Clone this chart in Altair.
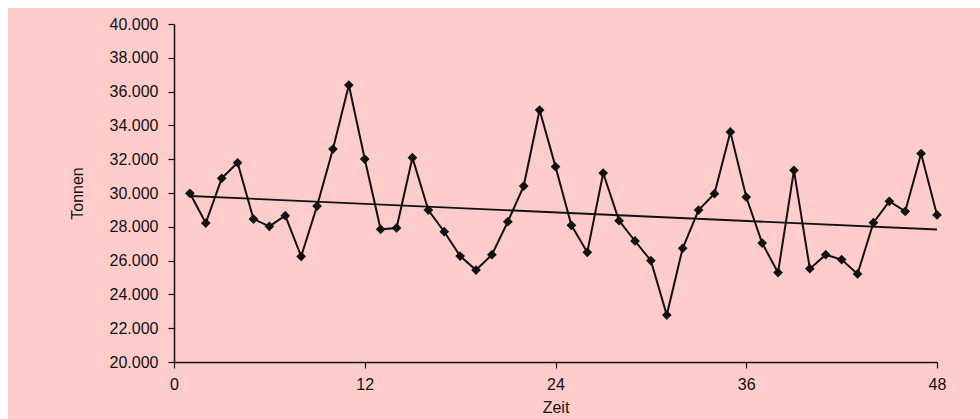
import altair as alt
import pandas as pd

# Monthly tonnage over 48 periods
zeit = list(range(1, 49))
tonnen = [
    29980, 28220, 30870, 31790, 28460, 28030, 28660, 26250, 29230, 32600,
    36390, 32010, 27850, 27930, 32090, 28990, 27710, 26270, 25440, 26350,
    28300, 30410, 34910, 31560, 28090, 26490, 31180, 28360, 27160, 26000,
    22780, 26730, 28990, 29960, 33610, 29760, 27040, 25290, 31340, 25520,
    26350, 26060, 25210, 28240, 29510, 28910, 32330, 28700,
]
x_ticks = [0, 12, 24, 36, 48]
y_ticks = list(range(20000, 40001, 2000))

df = pd.DataFrame({"Zeit": zeit, "Tonnen": tonnen})

PINK = "#FFCCCC"
INK = "#111111"
FONT = "Liberation Sans"

W, H = 763, 338
PAD_L, PAD_T = 174, 24
TOTAL_W, TOTAL_H = 980, 419

x_enc = alt.X(
    "Zeit:Q",
    scale=alt.Scale(domain=[0, 48], nice=False, zero=False),
    axis=alt.Axis(values=x_ticks, title="Zeit", grid=False, format="d", zindex=2),
)
y_enc = alt.Y(
    "Tonnen:Q",
    scale=alt.Scale(domain=[20000, 40000], nice=False, zero=False),
    axis=alt.Axis(
        values=y_ticks,
        title="Tonnen",
        grid=False,
        zindex=2,
        labelExpr="replace(format(datum.value, ','), ',', '.')",
    ),
)

# pink panel behind everything, leaving a thin white margin top and left
panel = alt.Chart(df).mark_rect(color=PINK, clip=False).encode(
    x=alt.value(8 - PAD_L),
    x2=alt.value(TOTAL_W - PAD_L),
    y=alt.value(8 - PAD_T),
    y2=alt.value(TOTAL_H - PAD_T),
)

base = alt.Chart(df)

series = base.mark_line(
    color=INK,
    strokeWidth=2,
    point=alt.OverlayMarkDef(shape="diamond", size=95, filled=True, color=INK, opacity=1),
).encode(x=x_enc, y=y_enc)

trend = (
    base.transform_regression("Zeit", "Tonnen", method="linear")
    .mark_line(color=INK, strokeWidth=1.8)
    .encode(x=x_enc, y=y_enc)
)

chart = (
    alt.layer(panel, trend, series)
    .properties(
        width=W,
        height=H,
        autosize=alt.AutoSizeParams(type="none"),
        padding={"left": PAD_L, "top": PAD_T, "right": TOTAL_W - PAD_L - W, "bottom": TOTAL_H - PAD_T - H},
        background="white",
    )
    .configure_view(stroke=None, fill=PINK)
    .configure_axis(
        domainColor=INK,
        domainWidth=1.5,
        tickColor=INK,
        tickWidth=1.2,
        tickSize=6,
        labelFont=FONT,
        labelFontSize=16,
        labelColor=INK,
        titleFont=FONT,
        titleFontSize=16,
        titleFontWeight="normal",
        titleColor=INK,
    )
    .configure_axisY(labelPadding=10, titlePadding=24)
    .configure_axisX(labelPadding=8, titlePadding=7, labelFlush=False)
)

chart.save("out.html", embed_options={"renderer": "svg", "actions": False})
